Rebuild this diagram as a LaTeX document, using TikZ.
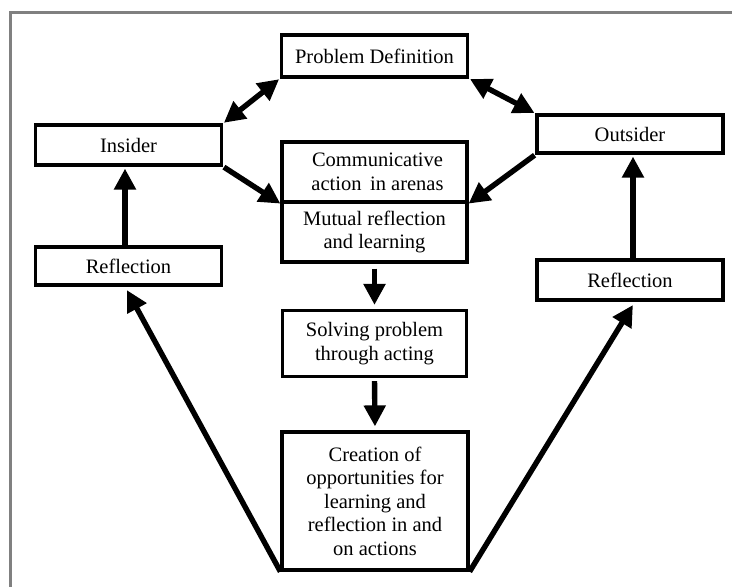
\documentclass[tikz,border=0pt]{standalone}
\usepackage{fontspec}
\setmainfont{Liberation Serif}
\usetikzlibrary{arrows.meta,calc}
\definecolor{framegray}{RGB}{128,128,128}
\tikzset{
  box/.style={draw, line width=3.2pt, inner sep=0pt, align=center,
    font=\fontsize{20.5}{23.5}\selectfont, minimum width=186pt},
  flow/.style={line width=5.4pt, -{Triangle[length=21pt,width=21pt]}},
  twoway/.style={line width=5.4pt, {Triangle[length=21pt,width=21pt]}-{Triangle[length=21pt,width=21pt]}},
  frameline/.style={draw=framegray, line width=3pt}
}
\begin{document}
\begin{tikzpicture}[x=1pt,y=-1pt]
\useasboundingbox (0,0) rectangle (732,587);
\fill[white] (0,0) rectangle (732,587);
% open frame (top and left edges)
\draw[frameline] (9,12.5) -- (732,12.5);
\draw[frameline] (10.5,11) -- (10.5,587);

% boxes
\node[box, minimum height=42pt] (pd)   at (374.5,56)  {Problem Definition};
\node[box, minimum height=40pt] (ins)  at (128.5,145) {Insider};
\node[box, minimum height=38pt] (out)  at (630,134)   {Outsider};
\node[box, minimum height=60pt, minimum width=185pt] (comA) at (374.5,172) {\hspace*{6pt}Communicative\\\hspace*{6pt}action\, in arenas};
\node[box, minimum height=60pt, minimum width=185pt] (comB) at (374.5,232) {Mutual reflection\\and learning};
\node[box, minimum height=38pt] (refl) at (128.5,266) {Reflection};
\node[box, minimum height=40pt] (refr) at (630,280)   {Reflection};
\node[box, minimum height=66pt, minimum width=184pt] (sol) at (374.5,343.5) {Solving problem\\through acting};
\node[box, minimum height=138pt] (cre) at (375,501) {Creation of\\opportunities for\\learning and\\reflection in and\\on actions};

% connectors
\draw[twoway, shorten <=1pt, shorten >=1pt] (pd.south west) -- (ins.north east);
\draw[twoway, shorten <=1pt, shorten >=1pt] (pd.south east) -- (out.north west);
\draw[flow, shorten <=1pt] (ins.south east) -- (comA.south west);
\draw[flow, shorten <=1pt] (out.south west) -- (comA.south east);
\draw[flow, shorten >=2pt] ($(refl.north)+(-3.5,0)$) -- ($(ins.south)+(-3.5,0)$);
\draw[flow, shorten >=2pt] ($(refr.north)+(3,0)$) -- ($(out.south)+(3,0)$);
\draw[flow, shorten <=5pt, shorten >=4pt] (comB.south) -- (sol.north);
\draw[flow, shorten <=3pt, shorten >=4pt] (sol.south) -- (cre.north);
\draw[flow, shorten >=4pt] (cre.south west) -- ($(refl.south)+(-3.5,0)$);
\draw[flow, shorten >=4pt] (cre.south east) -- ($(refr.south)+(5,0)$);
\end{tikzpicture}
\end{document}
